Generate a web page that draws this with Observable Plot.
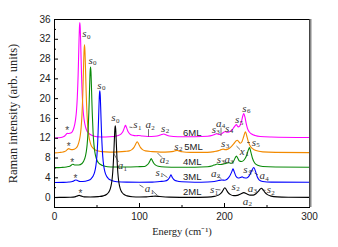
<!DOCTYPE html>
<html>
<head>
<meta charset="utf-8">
<script src="https://cdn.jsdelivr.net/npm/d3@7"></script>
<script src="https://cdn.jsdelivr.net/npm/@observablehq/plot@0.6"></script>
<style>
html,body{margin:0;padding:0;background:#fff;}
</style>
</head>
<body>
<div id="chart"></div>
<script>
const seriesNames = ["6ML","5ML","4ML","3ML","2ML"];
const seriesColors = ["#ff00ff","#f28a00","#0a8a0a","#0000ff","#000000"];

const ml2 = [[0,0.03],[10,0.05],[18,0.08],[24,0.15],[27,0.35],[29,0.45],[31,0.35],[35,0.15],[42,0.12],[51.5,0.2],[57.5,0.35],[61.5,0.67],[63.5,1.02],[65.5,1.71],[66.5,2.35],[67.5,3.36],[68.5,5.08],[69.5,7.95],[70,9.9],[70.5,12.0],[71,13.8],[71.5,14.5],[72,13.8],[72.5,12.0],[73,9.9],[73.5,7.95],[74.5,5.08],[75.5,3.36],[76.5,2.35],[77.5,1.71],[79.5,1.02],[81.5,0.67],[85.5,0.35],[91.5,0.17],[100,0.12],[108,0.15],[115,0.25],[119,0.3],[124,0.22],[135,0.1],[160,0.05],[180,0.1],[188,0.25],[193,0.5],[196.5,1.0],[198.5,1.55],[200.4,2.0],[202.3,1.55],[204.3,1.0],[207,0.6],[211,0.4],[215,0.45],[219,0.75],[222.7,1.0],[226.5,0.75],[230,0.5],[234,0.5],[237.5,0.85],[240,1.3],[241.8,1.7],[243.5,1.9],[245.2,1.6],[247.5,1.05],[250.5,0.6],[255,0.3],[262,0.15],[275,0.08],[300,0.05]];

const ml3 = [[0,3.05],[10,3.08],[17,3.15],[21,3.25],[23.5,3.45],[25,3.55],[27,3.45],[30,3.25],[33.3,3.25],[39.3,3.45],[43.3,3.86],[45.3,4.3],[47.3,5.2],[48.3,6.0],[49.3,7.3],[50.3,9.5],[51.3,13.2],[51.8,15.7],[52.3,18.4],[52.8,20.7],[53.3,21.6],[53.8,20.7],[54.3,18.4],[54.8,15.7],[55.3,13.2],[56.3,9.5],[57.3,7.3],[58.3,6.0],[59.3,5.2],[61.3,4.3],[63.3,3.86],[67.3,3.45],[73.3,3.22],[85,3.12],[100,3.1],[115,3.12],[124,3.25],[130,3.35],[133,3.55],[135,3.95],[136.2,4.35],[137,4.6],[137.8,4.35],[139,3.95],[141,3.55],[144,3.35],[150,3.2],[165,3.1],[180,3.15],[188,3.25],[193,3.45],[197,3.55],[200,3.5],[203,3.7],[206,4.3],[208.5,5.2],[210,5.8],[211.5,5.2],[213.5,4.3],[216,3.95],[218.5,4.05],[220.8,4.2],[223,4.0],[226,3.95],[229,4.4],[232,5.4],[234.5,6.1],[236.5,5.3],[238.5,4.2],[241,3.55],[245,3.25],[255,3.12],[300,3.1]];

const ml4 = [[0,6.05],[8,6.1],[14,6.2],[18,6.35],[20,6.6],[21.5,6.75],[23.5,6.6],[28.4,6.6],[32.4,6.9],[34.4,7.4],[36.4,8.4],[37.4,9.3],[38.4,10.7],[39.4,13.1],[40.4,17.2],[40.9,19.9],[41.4,22.9],[41.9,25.4],[42.4,26.4],[42.9,25.4],[43.4,22.9],[43.9,19.9],[44.4,17.2],[45.4,13.1],[46.4,10.7],[47.4,9.3],[48.4,8.4],[50.4,7.4],[52.4,6.9],[56.4,6.5],[62.4,6.25],[70,6.2],[85,6.2],[98,6.25],[106,6.3],[109,6.6],[111,7.0],[112.5,7.5],[113.8,7.9],[115.1,7.5],[116.6,7.0],[118.6,6.6],[122,6.35],[130,6.2],[145,6.15],[165,6.15],[180,6.25],[186,6.45],[189,6.65],[191.4,6.8],[194,6.7],[197,6.7],[200,6.85],[205,7.05],[208,6.95],[210.5,7.3],[212.5,8.0],[214,8.4],[215.5,8.0],[217.5,7.4],[220,7.3],[223,7.6],[226,8.5],[228,9.6],[229.4,10.1],[231,9.2],[233,7.9],[235.5,7.0],[239,6.55],[245,6.3],[260,6.2],[300,6.15]];

const ml5 = [[0,9.05],[6,9.12],[10,9.22],[13,9.4],[15,9.7],[16.8,9.9],[18.5,9.75],[21.3,9.7],[25.3,10.0],[27.3,10.5],[29.3,11.6],[30.3,12.55],[31.3,14.1],[32.3,16.7],[33.3,21.0],[33.8,24.0],[34.3,27.2],[34.8,29.8],[35.3,30.9],[35.8,29.8],[36.3,27.2],[36.8,24.0],[37.3,21.0],[38.3,16.7],[39.3,14.1],[40.3,12.55],[41.3,11.6],[43.3,10.5],[45.3,10.0],[49.3,9.5],[55.3,9.3],[65,9.2],[75,9.25],[83,9.35],[88,9.45],[91,9.7],[93.5,10.15],[95.3,10.75],[96.5,11.15],[97.3,11.3],[98.1,11.15],[99.3,10.75],[101.1,10.15],[103.6,9.7],[107,9.45],[115,9.3],[125,9.2],[135,9.25],[140,9.35],[142.5,9.5],[144.3,9.55],[146.3,9.45],[150,9.28],[160,9.15],[180,9.15],[188,9.3],[193,9.5],[196,9.7],[198.4,9.8],[201,9.7],[204,9.8],[208,10.3],[211,10.9],[213.5,11.45],[215,11.6],[216.5,11.35],[218.5,11.0],[220.5,11.3],[222.5,12.3],[224,13.1],[224.7,13.3],[226,12.6],[228,11.3],[230,10.5],[233,9.9],[237,9.5],[245,9.25],[260,9.15],[300,9.1]];

const ml6 = [[0,12.05],[5,12.1],[9,12.22],[12,12.45],[13.5,12.75],[15,13.0],[16.5,12.95],[19.8,13.1],[21.8,13.6],[23.8,14.8],[24.8,15.8],[25.8,17.4],[26.8,20.2],[27.8,24.8],[28.3,28.0],[28.8,31.4],[29.3,34.25],[29.8,35.4],[30.3,34.25],[30.8,31.4],[31.3,28.0],[31.8,24.8],[32.8,20.2],[33.8,17.4],[34.8,15.8],[35.8,14.8],[37.8,13.6],[39.8,13.1],[43.8,12.6],[49.8,12.3],[60,12.25],[70,12.35],[75,12.55],[78.5,12.9],[80.5,13.35],[81.5,13.8],[82.5,14.25],[83.5,14.6],[84.5,14.25],[85.5,13.8],[86.5,13.35],[88.5,12.9],[92,12.6],[96,12.5],[99,12.55],[103,12.45],[110,12.35],[118,12.4],[123,12.55],[126,12.75],[128.6,12.85],[131,12.7],[135,12.45],[145,12.3],[165,12.3],[180,12.4],[186,12.6],[189,12.8],[191,12.9],[193,12.75],[196,12.8],[199,13.2],[201,13.35],[203,13.2],[206,13.3],[209,13.7],[211.5,14.3],[214,14.75],[216,14.3],[218,14.5],[220,15.4],[221.5,16.5],[222.7,17.0],[224,16.3],[225.5,15.0],[227,14.0],[229,13.3],[232,12.85],[236,12.55],[242,12.35],[255,12.25],[300,12.15]];

const seriesPoints = [ml6, ml5, ml4, ml3, ml2];

// tick values
const xMajor = [0, 100, 200, 300];
const xMinor = [50, 150, 250];
const yMajor = [0, 4, 8, 12, 16, 20, 24, 28, 32, 36];
const yMinor = [2, 6, 10, 14, 18, 22, 26, 30, 34];

// peak annotations (letter, subscript, x, y)
const sLetters = ["s","s","s","s","s","s","s","s","s","s","s","s","s","s","s","s","s","s","s"];
const sSubs    = ["0","0","0","0","1","2","1","2","3","4","5","6","3","5","3","3","1","2","2"];
const sX       = [35.3,42.4,52.9,69.4,121.2,143.5,95.3,127.9,187.4,203.2,215,223.5,198.5,234.5,193.3,224.7,185.5,210.9,252.1];
const sY       = [33.1,27.8,22.7,16.1,5.1,10.4,14.7,14.0,13.8,14.0,15.7,18.0,11.0,11.1,7.7,5.6,1.55,2.35,1.55];
const aLetters = ["a","a","a","a","a","a","a","a","a","x","a"];
const aSubs    = ["1","1","2","2","4","3","2","4","3","1","2"];
const aX       = [77.6,109.4,127.1,110.2,193.3,203.2,187.4,244.3,230.6,220.8,224.7];
const aY       = [6.4,1.75,7.7,14.7,15.0,7.7,4.9,4.4,1.9,9.3,-0.8];

// leader lines
const leadX1 = [195.9,110.6,88.2,69.4,100,115.3,127.1,121.2,214.1,226.5,229.4,235.3,189.4,244.7,191.8];
const leadY1 = [14.15,13.85,14.25,9.0,2.56,1.35,4.78,9.01,10.42,11.13,5.48,4.98,1.65,1.55,4.48];
const leadX2 = [195.9,110.6,91.8,75.3,104.7,121.2,132.9,126.5,218.2,230,234.1,239.4,195.3,248.2,196.5];
const leadY2 = [12.45,12.35,14.15,7.2,2.06,0.44,4.07,8.1,9.72,11.13,5.38,4.58,1.55,1.45,3.77];

// series labels and asterisks
const mlLabelX = [162, 163.5, 162, 162, 162];
const mlLabelY = [13.0, 10.3, 7.26, 4.23, 1.21];
const starX = [14.9, 16.8, 20.8, 24.7, 30.6];
const starY = [14.0, 10.77, 7.46, 4.23, 1.21];

const rows = [];
seriesNames.forEach((name, i) => {
  seriesPoints[i].forEach(([x, y]) => rows.push({series: name, x, y}));
});

const sLabels = sLetters.map((t, i) => ({t, sub: sSubs[i], x: sX[i], y: sY[i]}));
const aLabels = aLetters.map((t, i) => ({t, sub: aSubs[i], x: aX[i], y: aY[i]}));
const leads = leadX1.map((x1, i) => ({x1, y1: leadY1[i], x2: leadX2[i], y2: leadY2[i]}));
const mlLabels = seriesNames.map((n, i) => ({n, x: mlLabelX[i], y: mlLabelY[i]}));
const stars = starX.map((x, i) => ({x, y: starY[i]}));

const serif = "'Liberation Serif','Times New Roman',serif";
const sans = "'Liberation Sans',Arial,sans-serif";
const labelColor = "#333";

const chart = Plot.plot({
  width: 338,
  height: 247,
  marginLeft: 54,
  marginRight: 29,
  marginTop: 19,
  marginBottom: 40,
  style: {fontFamily: sans, fontSize: "10px", background: "white", color: "#222"},
  x: {domain: [0, 300]},
  y: {domain: [-2, 36]},
  color: {domain: seriesNames, range: seriesColors},
  marks: [
    Plot.line(rows, {x: "x", y: "y", z: "series", stroke: "series", strokeWidth: 1.1, curve: "monotone-x"}),
    Plot.link(leads, {x1: "x1", y1: "y1", x2: "x2", y2: "y2", stroke: labelColor, strokeWidth: 0.7}),
    Plot.text(sLabels, {x: "x", y: "y", text: "t", fontFamily: serif, fontStyle: "italic", fontSize: 11, fill: labelColor}),
    Plot.text(sLabels, {x: "x", y: "y", text: "sub", fontFamily: serif, fontSize: 7, dx: 4.2, dy: 2.5, fill: labelColor}),
    Plot.text(aLabels, {x: "x", y: "y", text: "t", fontFamily: serif, fontStyle: "italic", fontSize: 11, fill: labelColor}),
    Plot.text(aLabels, {x: "x", y: "y", text: "sub", fontFamily: serif, fontSize: 7, dx: 4.8, dy: 2.5, fill: labelColor}),
    Plot.text(mlLabels, {x: "x", y: "y", text: "n", fontFamily: sans, fontSize: 9.5, fill: "#222"}),
    Plot.text(stars, {x: "x", y: "y", text: () => "*", fontFamily: sans, fontSize: 10, dy: 2, fill: "#444"}),
    Plot.ruleX(xMajor, {x: d => d, insetTop: 184, stroke: "black"}),
    Plot.ruleX(xMinor, {x: d => d, insetTop: 186, stroke: "black"}),
    Plot.ruleY(yMajor, {y: d => d, insetRight: 251, stroke: "black"}),
    Plot.ruleY(yMinor, {y: d => d, insetRight: 253, stroke: "black"}),
    Plot.axisX({ticks: xMajor, tickSize: 0, tickPadding: 5, label: null, fontSize: 10}),
    Plot.axisY({ticks: yMajor, tickSize: 0, tickPadding: 4, label: null, fontSize: 10}),
    Plot.text(["Raman intensity (arb. units)"], {frameAnchor: "left", dx: -42, rotate: -90, textAnchor: "middle", fontFamily: serif, fontSize: 12.5, fill: "#222"}),
    Plot.text(["Energy (cm\u207B\u00B9)"], {frameAnchor: "bottom", dy: 27, fontFamily: serif, fontSize: 10.5, fill: "#222"}),
    Plot.frame({stroke: "black", strokeWidth: 1}),
    Plot.ruleX([300], {stroke: "#888", strokeWidth: 2, dx: 1})
  ]
});
document.getElementById("chart").appendChild(chart);
</script>
</body>
</html>
